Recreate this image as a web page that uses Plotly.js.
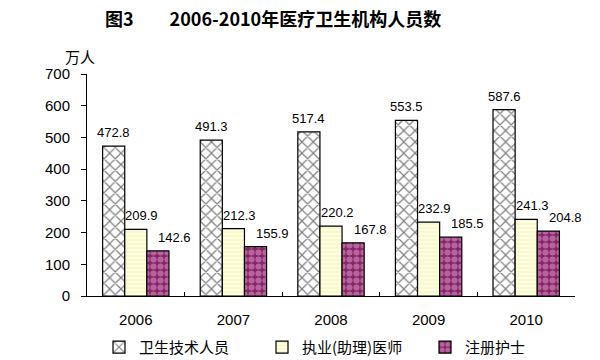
<!DOCTYPE html>
<html><head><meta charset="utf-8">
<script src="https://cdn.plot.ly/plotly-3.0.1.min.js"></script>
<style>body{margin:0;background:#fff}</style>
</head><body><div id="chart" style="width:600px;height:360px"></div>
<script>
const years = ['2006','2007','2008','2009','2010'];
const seriesNames = ['卫生技术人员','执业(助理)医师','注册护士'];
const healthTech = [472.8, 491.3, 517.4, 553.5, 587.6];
const doctors = [209.9, 212.3, 220.2, 232.9, 241.3];
const nurses = [142.6, 155.9, 167.8, 185.5, 204.8];
const yTicks = [0,100,200,300,400,500,600,700];

const BARGAP = 0.32;
const labelFont = {family:'Liberation Sans, Arial, sans-serif', size:13, color:'#000'};
function bar(name, y, pattern) {
  return {
    type:'bar', name:name, x:years, y:y,
    marker:{color:pattern.bgcolor, line:{color:'#000', width:1.2}, pattern:pattern}
  };
}
const allSeries = [healthTech, doctors, nurses];
const data = [
  bar(seriesNames[0], healthTech, {shape:'x', fgcolor:'#000', bgcolor:'#ffffff', size:8, solidity:0.28, fillmode:'overlay'}),
  bar(seriesNames[1], doctors, {shape:'-', fgcolor:'#e6e6b8', bgcolor:'#ffffdc', size:4, solidity:0.3, fillmode:'overlay'}),
  bar(seriesNames[2], nurses, {shape:'.', fgcolor:'#dfa6d2', bgcolor:'#8a2468', size:7, solidity:0.6, fillmode:'overlay'})
];
// value labels, placed above each bar (slightly shifted right like the original)
const barW = (1 - BARGAP) / allSeries.length;
const xShifts = [0, 6, 17];
const labelAnn = [];
allSeries.forEach((vals, s) => {
  vals.forEach((v, i) => {
    labelAnn.push({
      xref:'x', yref:'y', x: i + (s - (allSeries.length-1)/2) * barW, y: v,
      text: v.toFixed(1), showarrow:false, xanchor:'center', yanchor:'bottom',
      xshift: xShifts[s], yshift: 4, font: labelFont
    });
  });
});
const layout = {
  width:600, height:360,
  margin:{l:87, r:25, t:74, b:64},
  paper_bgcolor:'#fff', plot_bgcolor:'#fff',
  bargap:BARGAP, bargroupgap:0,
  showlegend:true,
  title:{text:'图3　　2006-2010年医疗卫生机构人员数', font:{family:'Noto Sans CJK SC, sans-serif', size:18, color:'#000', weight:'bold'}, xref:'container', x:0.175, xanchor:'left', y:0.945, yanchor:'middle'},
  xaxis:{type:'category', range:[-0.5, years.length-0.5], autorange:false, showline:true, linecolor:'#000', linewidth:1, showgrid:false, ticks:'inside', ticklen:4, tickcolor:'#000', tickson:'boundaries', ticklabelstandoff:10, tickfont:{family:'Liberation Sans, Arial, sans-serif', size:15, color:'#000'}, fixedrange:true},
  yaxis:{range:[0,700], autorange:false, tickvals:yTicks, showline:true, linecolor:'#000', linewidth:1, showgrid:false, zeroline:false, ticks:'outside', ticklen:5, tickcolor:'#000', ticklabelstandoff:8, tickfont:{family:'Liberation Sans, Arial, sans-serif', size:15, color:'#000'}, fixedrange:true},
  legend:{orientation:'h', xref:'container', yref:'container', x:0.165, xanchor:'left', y:0.035, yanchor:'middle', entrywidth:118, font:{family:'Noto Sans CJK SC, sans-serif', size:15, color:'#000'}, itemwidth:30},
  annotations:[{text:'万人', xref:'paper', yref:'paper', x:-0.014, y:1.08, xanchor:'center', yanchor:'middle', showarrow:false, font:{family:'Noto Sans CJK SC, sans-serif', size:15, color:'#000'}}].concat(labelAnn)
};
Plotly.newPlot('chart', data, layout, {displayModeBar:false, staticPlot:true});
</script></body></html>
